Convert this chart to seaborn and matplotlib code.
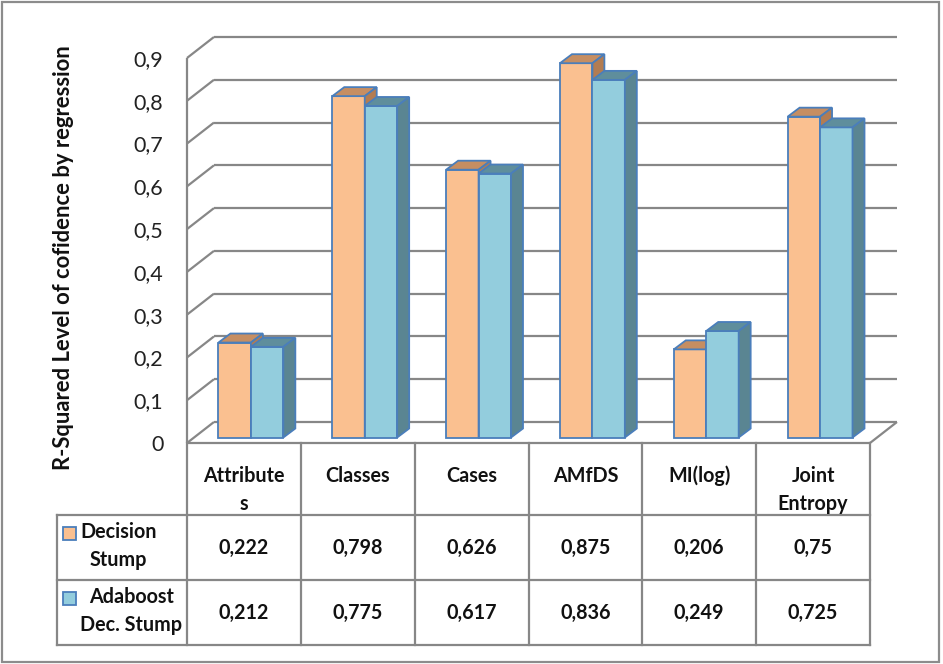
import matplotlib
matplotlib.use("Agg")
import pandas as pd
import matplotlib.pyplot as plt
from matplotlib.patches import Polygon, Rectangle
import seaborn as sns

# ------------------------------------------------------------
# data
# ------------------------------------------------------------
categories = ["Attributes", "Classes", "Cases", "AMfDS", "MI(log)", "Joint Entropy"]
header_labels = ["Attribute\ns", "Classes", "Cases", "AMfDS", "MI(log)", "Joint\nEntropy"]
series_names = ["Decision Stump", "Adaboost Dec. Stump"]
row_labels = ["Decision\nStump", "Adaboost\nDec. Stump"]
decision_stump = [0.222, 0.798, 0.626, 0.875, 0.206, 0.75]
adaboost_stump = [0.212, 0.775, 0.617, 0.836, 0.249, 0.725]
y_ticks = [0, 0.1, 0.2, 0.3, 0.4, 0.5, 0.6, 0.7, 0.8, 0.9]
y_label = "R-Squared Level of cofidence by regression"


def comma(v):
    return f"{v:g}".replace(".", ",")


# ------------------------------------------------------------
# style
# ------------------------------------------------------------
sns.set_theme(style="white")
plt.rcParams["font.family"] = ["Lato", "DejaVu Sans"]

front_colors = ["#FAC090", "#93CDDD"]
top_colors = ["#C68E62", "#5F8E9C"]
side_colors = ["#B27C52", "#5A8592"]
edge_blue = "#4A7EBB"
grid_gray = "#878787"

W, H = 943, 664


def px_box(l, t, r, b):
    return [l / W, 1 - b / H, (r - l) / W, (b - t) / H]


fig = plt.figure(figsize=(W / 100, H / 100), dpi=100)
ax = fig.add_axes(px_box(187, 58, 870, 443))
tab = fig.add_axes(px_box(187, 443, 870, 645))

# 3d depth (in data units: one category = 114 px, 0.1 = 42.8 px)
cat_px = 114.0
val_px = 427.8
wall_dx, wall_dy = 27 / cat_px, 21 / val_px
bar_ox, bar_oy = 7 / cat_px, 5.5 / val_px
bar_dx, bar_dy = 12 / cat_px, 9 / val_px

# ------------------------------------------------------------
# bars
# ------------------------------------------------------------
df = pd.DataFrame({
    "category": categories * 2,
    "series": [series_names[0]] * len(categories) + [series_names[1]] * len(categories),
    "value": decision_stump + adaboost_stump,
})

sns.barplot(data=df, x="category", y="value", hue="series", order=categories,
            hue_order=series_names, palette=front_colors, saturation=1,
            width=0.57, gap=0, edgecolor=edge_blue, linewidth=1.3,
            errorbar=None, legend=False, ax=ax)

for i, cont in enumerate(ax.containers):
    z = 3 + i
    for p in cont.patches:
        x0 = p.get_x() + bar_ox
        w = p.get_width()
        h = p.get_height()
        p.set_x(x0)
        p.set_y(bar_oy)
        p.set_zorder(z)
        p.set_clip_on(False)
        top = h + bar_oy
        ax.add_patch(Polygon([(x0, top), (x0 + w, top), (x0 + w + bar_dx, top + bar_dy),
                              (x0 + bar_dx, top + bar_dy)], closed=True,
                             facecolor=top_colors[i], edgecolor=edge_blue,
                             linewidth=1.3, zorder=z, clip_on=False))
        ax.add_patch(Polygon([(x0 + w, bar_oy), (x0 + w + bar_dx, bar_oy + bar_dy),
                              (x0 + w + bar_dx, top + bar_dy), (x0 + w, top)], closed=True,
                             facecolor=side_colors[i], edgecolor=edge_blue,
                             linewidth=1.3, zorder=z, clip_on=False))

# ------------------------------------------------------------
# walls, floor, gridlines
# ------------------------------------------------------------
x_lo, x_hi = -0.5, len(categories) - 0.5
line_kw = dict(color=grid_gray, linewidth=1.6, clip_on=False, zorder=1,
               solid_capstyle="butt")
for v in y_ticks:
    ax.plot([x_lo, x_lo + wall_dx], [v, v + wall_dy], **line_kw)
    ax.plot([x_lo + wall_dx, x_hi + wall_dx], [v + wall_dy, v + wall_dy], **line_kw)
ax.plot([x_lo, x_lo], [0, y_ticks[-1]], **line_kw)
ax.plot([x_lo, x_hi], [0, 0], **line_kw)
ax.plot([x_hi, x_hi + wall_dx], [0, wall_dy], **line_kw)

ax.set_xlim(x_lo, x_hi)
ax.set_ylim(0, y_ticks[-1])
ax.set_xticks([])
ax.set_xlabel("")
ax.set_yticks(y_ticks)
ax.set_yticklabels([comma(t) for t in y_ticks], fontsize=15.5, color="#222222")
ax.tick_params(axis="y", length=0, pad=17)
ax.set_ylabel(y_label, fontsize=15.8, fontweight="bold", color="#111111")
ax.yaxis.set_label_coords(-0.166, 0.482)
for s in ax.spines.values():
    s.set_visible(False)
ax.set_facecolor("none")

# ------------------------------------------------------------
# data table
# ------------------------------------------------------------
row_edges = [0, 72, 137, 202]
legend_left = x_lo - 130 / cat_px
tab.set_xlim(x_lo, x_hi)
tab.set_ylim(row_edges[-1], 0)
tab.axis("off")

tkw = dict(color=grid_gray, linewidth=1.6, clip_on=False, solid_capstyle="projecting")
for k in range(len(categories) + 1):
    tab.plot([x_lo + k, x_lo + k], [row_edges[0], row_edges[-1]], **tkw)
for yb in row_edges[1:]:
    tab.plot([legend_left, x_hi], [yb, yb], **tkw)
tab.plot([legend_left, legend_left], [row_edges[1], row_edges[-1]], **tkw)

txt_kw = dict(fontsize=14.2, fontweight="bold", color="#111111", clip_on=False)
for k, lab in enumerate(header_labels):
    tab.text(k, 22.5, lab, ha="center", va="top", linespacing=1.52, **txt_kw)

for r, vals in enumerate([decision_stump, adaboost_stump]):
    y_mid = (row_edges[r + 1] + row_edges[r + 2]) / 2
    for k, v in enumerate(vals):
        tab.text(k, y_mid, comma(v), ha="center", va="center", **txt_kw)
    tab.add_patch(Rectangle((legend_left + 6 / cat_px, row_edges[r + 1] + 12), 13 / cat_px, 12.5,
                            facecolor=front_colors[r], edgecolor=edge_blue, linewidth=1.3,
                            clip_on=False))
    tab.text(legend_left + 23 / cat_px, y_mid - 1.5, row_labels[r], ha="left", va="center",
             multialignment="center", linespacing=1.5, **txt_kw)

# outer frame
fig.patches.append(Rectangle((2 / W, 2 / H), 937 / W, 660 / H, transform=fig.transFigure,
                             fill=False, edgecolor="#8C8C8C", linewidth=1.6))

fig.savefig("out.png", dpi=100, facecolor="white")
